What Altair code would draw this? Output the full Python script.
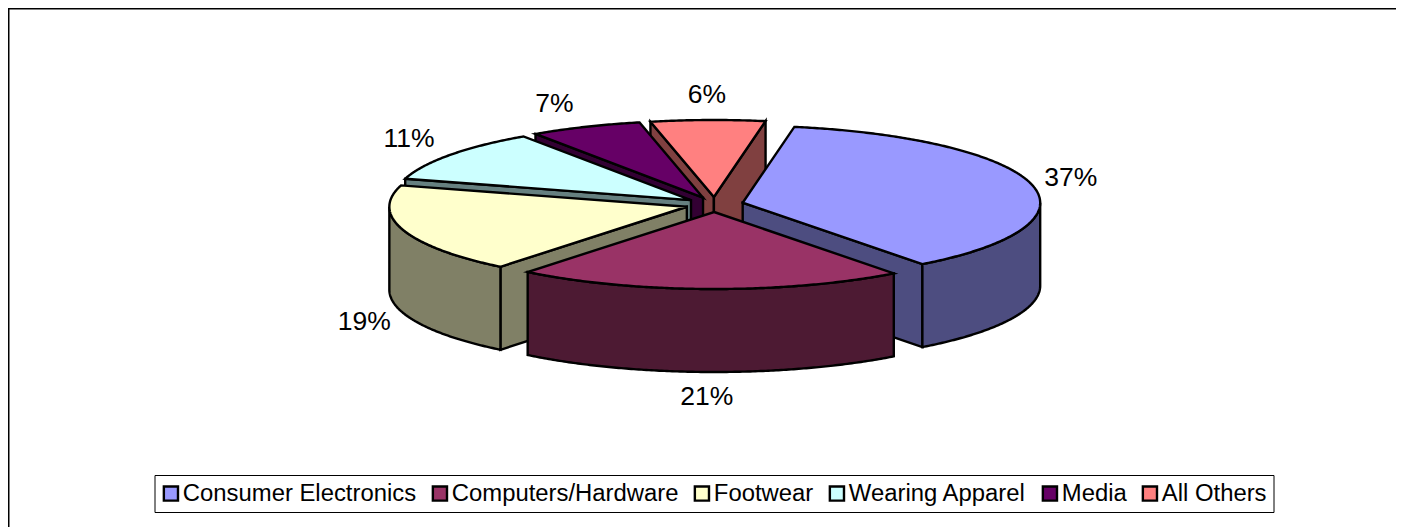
import math
import altair as alt

# ---- chart values ----
categories = ["Consumer Electronics", "Computers/Hardware", "Footwear",
              "Wearing Apparel", "Media", "All Others"]
shares = [36.9, 21.1, 18.7, 11.0, 6.1, 6.2]
share_labels = ["37%", "21%", "19%", "11%", "7%", "6%"]
top_colors = ["#9999FF", "#993366", "#FFFFCC", "#CCFFFF", "#660066", "#FF8080"]
side_colors = ["#4D4D80", "#4D1A33", "#808066", "#668080", "#330033", "#804040"]

# ---- layout (plot-area pixels) ----
CX, CY = 706.5, 196.5      # pie centre
RX, RY = 297.5, 77.0       # ellipse radii of the top face
DEPTH = 83.0               # extrusion height
EXPLODE = 29.0             # slice pull-out along the mid-angle
START = 10.0               # angle of the first slice, clockwise from 12 o'clock
LABEL_NUDGE = [(39, -7), (-3, 25), (-39, 9), (-41, -16), (-31, -23), (-1, -25)]
PAINT_ORDER = [5, 4, 3, 2, 0, 1]


def rim(ax, ay, deg):
    r = math.radians(deg)
    return [ax + RX * math.sin(r), ay - RY * math.cos(r)]


def arc(ax, ay, a, b):
    n = max(2, int(abs(b - a) * 2))
    return [rim(ax, ay, a + (b - a) * i / n) for i in range(n + 1)]


def feature(key, ring):
    ring = [[round(x, 2), round(y, 2)] for x, y in ring]
    return {"type": "Feature", "properties": {"key": key},
            "geometry": {"type": "Polygon", "coordinates": [ring + [ring[0]]]}}


def down(pts):
    return [[x, y + DEPTH] for x, y in pts]


slices = []
angle = START
for i, share in enumerate(shares):
    sweep = share / sum(shares) * 360
    slices.append((angle, angle + sweep))
    angle += sweep

features = []
labels = []
for i in PAINT_ORDER:
    a, b = slices[i]
    mid = math.radians((a + b) / 2)
    ax = CX + EXPLODE * math.sin(mid)
    ay = CY - EXPLODE * RY / RX * math.cos(mid)
    side = categories[i] + " side"
    # radial walls that face the viewer
    if math.sin(math.radians(a)) < 0:
        p = [[ax, ay], rim(ax, ay, a)]
        features.append(feature(side, p + down(p)[::-1]))
    if math.sin(math.radians(b)) > 0:
        p = [[ax, ay], rim(ax, ay, b)]
        features.append(feature(side, p + down(p)[::-1]))
    # front-facing part of the outer wall
    lo, hi = max(a, 90), min(b, 270)
    if hi > lo:
        p = arc(ax, ay, lo, hi)
        features.append(feature(side, p + down(p)[::-1]))
    # top face
    features.append(feature(categories[i], [[ax, ay]] + arc(ax, ay, a, b)))

for i, share in enumerate(shares):
    a, b = slices[i]
    m = (a + b) / 2
    r = math.radians(m)
    ax = CX + EXPLODE * math.sin(r)
    ay = CY - EXPLODE * RY / RX * math.cos(r)
    x, y = rim(ax, ay, m)
    if math.cos(r) < 0:
        y += DEPTH
    labels.append({"text": share_labels[i],
                   "px": x + LABEL_NUDGE[i][0], "py": y + LABEL_NUDGE[i][1]})

domain = categories + [c + " side" for c in categories]
palette = top_colors + side_colors

pie = alt.Chart(alt.Data(values=features)).mark_geoshape(
    stroke="black", strokeWidth=2.4, strokeJoin="miter"
).encode(
    color=alt.Color(
        "properties.key:N",
        scale=alt.Scale(domain=domain, range=palette),
        legend=alt.Legend(
            values=categories, title=None, orient="none",
            legendX=146.5, legendY=467, direction="horizontal", columns=6,
            symbolType="square", symbolSize=200, symbolStrokeColor="black",
            symbolStrokeWidth=2.4, symbolOffset=-2, labelFont="Liberation Sans",
            labelFontSize=23.85, labelColor="black", labelOffset=0, labelLimit=400,
            columnPadding=11, padding=6.5, strokeColor="black", fillColor="white",
        ),
    )
).project(type="identity", scale=1, translate=[0, 0])

text = alt.Chart(alt.Data(values=labels)).mark_text(
    font="Liberation Sans", fontSize=26.5, color="black"
).encode(
    x=alt.X("px:Q", scale=None), y=alt.Y("py:Q", scale=None), text="text:N"
)

frame_top = alt.Chart(alt.Data(values=[{"k": "top"}])).mark_rule(
    color="black", strokeWidth=1.5
).encode(x=alt.value(0), x2=alt.value(1388), y=alt.value(0.75))
frame_left = alt.Chart(alt.Data(values=[{"k": "left"}])).mark_rule(
    color="black", strokeWidth=1.5
).encode(x=alt.value(0.75), y=alt.value(0), y2=alt.value(519))

chart = alt.layer(frame_top, frame_left, pie, text).properties(
    width=1388, height=519,
    padding=0,
    autosize=alt.AutoSizeParams(type="none"),
    background="white",
).configure_view(stroke=None)

chart.save("out.html", embed_options={"renderer": "svg", "actions": False})
